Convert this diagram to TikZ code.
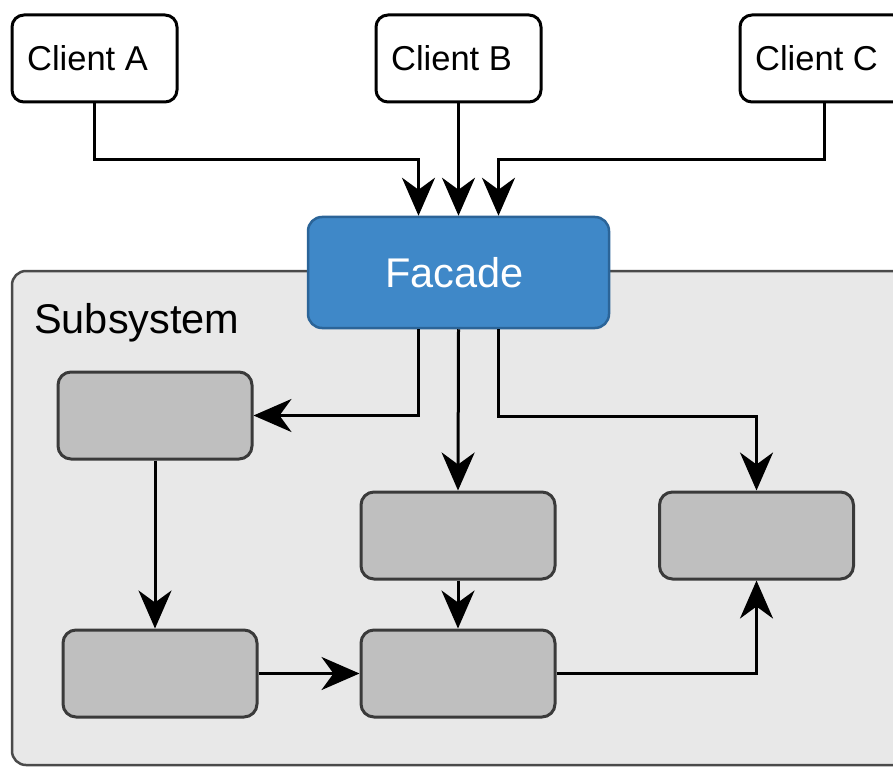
\documentclass[tikz,border=0pt]{standalone}
\usepackage{fontspec}
\setmainfont{Liberation Sans}
\usetikzlibrary{arrows.meta}
\definecolor{facadefill}{HTML}{3F88C8}
\definecolor{facadeline}{HTML}{2B6498}
\definecolor{groupfill}{HTML}{E8E8E8}
\definecolor{groupline}{HTML}{4A4A4A}
\definecolor{partfill}{HTML}{BFBFBF}
\definecolor{partline}{HTML}{3A3A3A}
\tikzset{
  client/.style={draw=black, line width=3pt, fill=white, rounded corners=12pt,
    minimum width=165pt, minimum height=87pt, inner sep=0pt},
  clienttext/.style={inner sep=0pt, font=\fontsize{34.5}{40}\selectfont},
  facadebox/.style={draw=facadeline, line width=2.5pt, fill=facadefill, rounded corners=14pt,
    minimum width=301pt, minimum height=111pt, inner sep=0pt},
  facadetext/.style={inner sep=0pt, text=white, font=\fontsize{41.5}{48}\selectfont},
  part/.style={draw=partline, line width=3pt, fill=partfill, rounded corners=13pt,
    minimum width=194pt, minimum height=87pt, inner sep=0pt},
  arr/.style={draw=black, line width=3pt,
    -{Stealth[length=38pt, width=33pt, inset=12pt]}},
}
\begin{document}
\begin{tikzpicture}[x=1pt, y=-1pt]
  \useasboundingbox (0,0) rectangle (893,767);
  \clip (0,0) rectangle (893,767);
  % subsystem group
  \draw[draw=groupline, line width=2.5pt, fill=groupfill, rounded corners=14pt]
    (12,271) rectangle (920,765);
  \node[anchor=base west, inner sep=0pt, font=\fontsize{41.5}{48}\selectfont] (sublabel)
    at (34,333) {Subsystem};
  % clients
  \node[client] (cA) at (94.5,58.5) {};
  \node[client] (cB) at (458.5,58.5) {};
  \node[client] (cC) at (822.5,58.5) {};
  \node[clienttext] (tA) at ([xshift=-7pt]cA.center) {Client A};
  \node[clienttext] (tB) at ([xshift=-7pt]cB.center) {Client B};
  \node[clienttext] (tC) at ([xshift=-6pt]cC.center) {Client C};
  % facade
  \node[facadebox] (fac) at (458.5,272.5) {};
  \node[facadetext] (tF) at ([xshift=-4pt]fac.center) {Facade};
  % subsystem parts
  \node[part] (p1) at (155,415.5) {};
  \node[part] (p2) at (458,535.5) {};
  \node[part] (p3) at (756.5,535.5) {};
  \node[part] (p4) at (160,673.5) {};
  \node[part] (p5) at (458,673.5) {};
  % client calls into the facade
  \draw[arr] (cA.south) -- ++(0,56) -| ([xshift=-40pt]fac.north);
  \draw[arr] (cB.south) -- (fac.north);
  \draw[arr] ([xshift=2pt]cC.south) -- ++(0,56) -| ([xshift=40pt]fac.north);
  % facade delegating to the parts
  \draw[arr] ([xshift=-40pt]fac.south) |- (p1.east);
  \draw[arr] (fac.south) -- (p2.north);
  \draw[arr] ([xshift=40pt]fac.south) -- ++(0,87) -| (p3.north);
  % interactions among the parts
  \draw[arr] (p1.south) -- (p1.south |- p4.north);
  \draw[arr] (p2.south) -- (p5.north);
  \draw[arr] (p4.east) -- (p5.west);
  \draw[arr] (p5.east) -| (p3.south);
\end{tikzpicture}
\end{document}
